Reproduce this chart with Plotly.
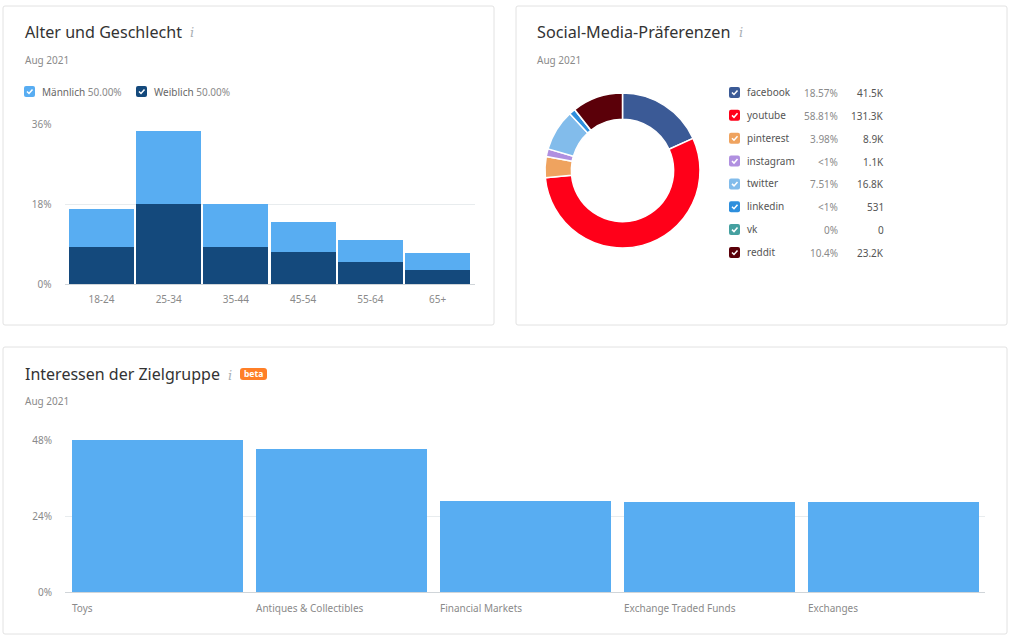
import plotly.graph_objects as go

W, H = 1010, 638
FONT = "Noto Sans"
TITLE_COL = "#333333"
GREY = "#8a8a8a"
GRID = "#e8ecee"
LIGHT = "#58adf2"
DARK = "#14497c"

# age / gender
age_groups = ["18-24", "25-34", "35-44", "45-54", "55-64", "65+"]
female = [8.3, 18.0, 8.4, 7.2, 5.0, 3.2]
male = [8.6, 16.4, 9.6, 6.8, 4.9, 3.8]
gender_names = ["Männlich", "Weiblich"]
gender_shares = ["50.00%", "50.00%"]
age_ticks = [0, 18, 36]
age_tick_labels = ["0%", "18%", "36%"]

# social media (slice sizes read from the ring, small slices are drawn larger than their label)
networks = ["facebook", "youtube", "pinterest", "instagram", "twitter", "linkedin", "vk", "reddit"]
slice_share = [18.2, 55.3, 4.4, 1.6, 8.6, 1.3, 0, 10.6]
share_labels = ["18.57%", "58.81%", "3.98%", "<1%", "7.51%", "<1%", "0%", "10.4%"]
visit_labels = ["41.5K", "131.3K", "8.9K", "1.1K", "16.8K", "531", "0", "23.2K"]
network_colors = ["#3b5a96", "#ff0019", "#efa35f", "#b090e0", "#82bceb", "#2e8fdd", "#45a0a0", "#5b0009"]

# interests
interests = ["Toys", "Antiques & Collectibles", "Financial Markets", "Exchange Traded Funds", "Exchanges"]
interest_share = [48.0, 45.2, 28.7, 28.5, 28.5]
interest_ticks = [0, 24, 48]
interest_tick_labels = ["0%", "24%", "48%"]


def px(x):
    return x / W


def py(y):
    return 1 - y / H


def text(x, y, s, size=10, color=GREY, anchor="left", family=FONT, **kw):
    fig.add_annotation(x=px(x), y=py(y), xref="paper", yref="paper", text=s, showarrow=False,
                       xanchor=anchor, yanchor="middle", borderpad=0,
                       font=dict(size=size, color=color, family=family), **kw)


def rounded(x0, y0, x1, y1, r=2):
    return (f"M {px(x0 + r)} {py(y0)} L {px(x1 - r)} {py(y0)} Q {px(x1)} {py(y0)} {px(x1)} {py(y0 + r)} "
            f"L {px(x1)} {py(y1 - r)} Q {px(x1)} {py(y1)} {px(x1 - r)} {py(y1)} "
            f"L {px(x0 + r)} {py(y1)} Q {px(x0)} {py(y1)} {px(x0)} {py(y1 - r)} "
            f"L {px(x0)} {py(y0 + r)} Q {px(x0)} {py(y0)} {px(x0 + r)} {py(y0)} Z")


def checkbox(x, y, color):
    fig.add_shape(type="path", path=rounded(x, y, x + 11, y + 11), xref="paper", yref="paper",
                  fillcolor=color, line_width=0)
    fig.add_shape(type="path", xref="paper", yref="paper", line=dict(color="white", width=1.5),
                  path=f"M {px(x + 3)} {py(y + 5.5)} L {px(x + 5)} {py(y + 7.5)} L {px(x + 8.5)} {py(y + 3.5)}")


fig = go.Figure()

fig.add_trace(go.Bar(x=age_groups, y=female, marker_color=DARK, xaxis="x", yaxis="y", showlegend=False))
fig.add_trace(go.Bar(x=age_groups, y=male, marker_color=LIGHT, xaxis="x", yaxis="y", showlegend=False))
fig.add_trace(go.Bar(x=interests, y=interest_share, marker_color=LIGHT, xaxis="x2", yaxis="y2",
                     width=0.93, showlegend=False))
fig.add_trace(go.Pie(values=slice_share, sort=False, direction="clockwise", rotation=0, hole=0.66,
                     marker=dict(colors=network_colors, line=dict(color="white", width=1.5)),
                     textinfo="none", showlegend=False,
                     domain=dict(x=[px(545), px(700)], y=[py(248), py(93)])))

axis_font = dict(size=10, color=GREY, family=FONT)
fig.update_layout(
    template="none",
    width=W, height=H, margin=dict(l=0, r=0, t=0, b=0), autosize=False,
    paper_bgcolor="white", plot_bgcolor="white", barmode="stack", bargap=0.03,
    xaxis=dict(domain=[px(64.5), px(474.5)], range=[-0.55, 5.55], tickfont=axis_font, showgrid=False,
               showline=False, ticks="outside", ticklen=6, tickcolor="rgba(0,0,0,0)", anchor="y", zeroline=False),
    yaxis=dict(domain=[py(284), py(124)], range=[0, 36], tickvals=age_ticks, ticktext=age_tick_labels,
               tickfont=axis_font, gridcolor=GRID, showline=False, zeroline=True, zerolinecolor="#d0d5d9",
               ticks="outside", ticklen=10, tickcolor="rgba(0,0,0,0)", anchor="x"),
    xaxis2=dict(domain=[px(65), px(985)], range=[-0.503, 4.497], showticklabels=False, showgrid=False,
                ticks="", anchor="y2", zeroline=False),
    yaxis2=dict(domain=[py(592), py(440)], range=[0, 48], tickvals=interest_ticks, ticktext=interest_tick_labels,
                tickfont=axis_font, gridcolor=GRID, showline=False, zeroline=True, zerolinecolor="#d0d5d9",
                ticks="outside", ticklen=10, tickcolor="rgba(0,0,0,0)", anchor="x2"),
)

# panel frames
for x0, y0, x1, y1 in [(3, 6, 494, 325), (516, 6, 1007, 325), (3, 347, 1007, 634)]:
    fig.add_shape(type="path", path=rounded(x0, y0, x1, y1, 2), xref="paper", yref="paper",
                  line=dict(color="#e2e2e2", width=1), fillcolor="rgba(0,0,0,0)", layer="below")

# headings
text(24, 32, "Alter und Geschlecht", size=16.1, color=TITLE_COL)
text(189, 33, "<i>i</i>", size=13, color="#aab0b5", family="DejaVu Serif")
text(24, 60, "Aug 2021")
text(536, 32, "Social-Media-Präferenzen", size=16.2, color=TITLE_COL)
text(738, 33, "<i>i</i>", size=13, color="#aab0b5", family="DejaVu Serif")
text(536, 60, "Aug 2021")
text(24, 374, "Interessen der Zielgruppe", size=16, color=TITLE_COL)
text(227, 375, "<i>i</i>", size=13, color="#aab0b5", family="DejaVu Serif")
text(24, 401, "Aug 2021")
fig.add_shape(type="path", path=rounded(240, 368, 267, 380, 3), xref="paper", yref="paper",
              fillcolor="#ff7f27", line_width=0)
text(253.5, 373.5, "<b>beta</b>", size=8.5, color="white", anchor="center")

# gender legend
for x, name, share, color in zip([24, 136], gender_names, gender_shares, [LIGHT, DARK]):
    checkbox(x, 86, color)
    text(x + 17, 92, f'<span style="color:#666666">{name}</span> {share}')

# social legend
for i, name in enumerate(networks):
    y = 92.5 + i * 22.85
    checkbox(729, y - 5.5, network_colors[i])
    text(745.5, y - 0.5, name, color="#555555")
    text(838.5, y + 0.5, share_labels[i], anchor="right")
    text(885, y + 0.5, visit_labels[i], color="#555555", anchor="right")

# interest labels sit left aligned under the bars
for i, name in enumerate(interests):
    fig.add_annotation(x=i - 0.476, y=0, xref="x2", yref="y2", text=name, showarrow=False, xanchor="left",
                       yanchor="top", yshift=-7, font=axis_font)

fig.write_html("out.html", config={"displayModeBar": False}, post_script="document.body.style.margin='0'")
